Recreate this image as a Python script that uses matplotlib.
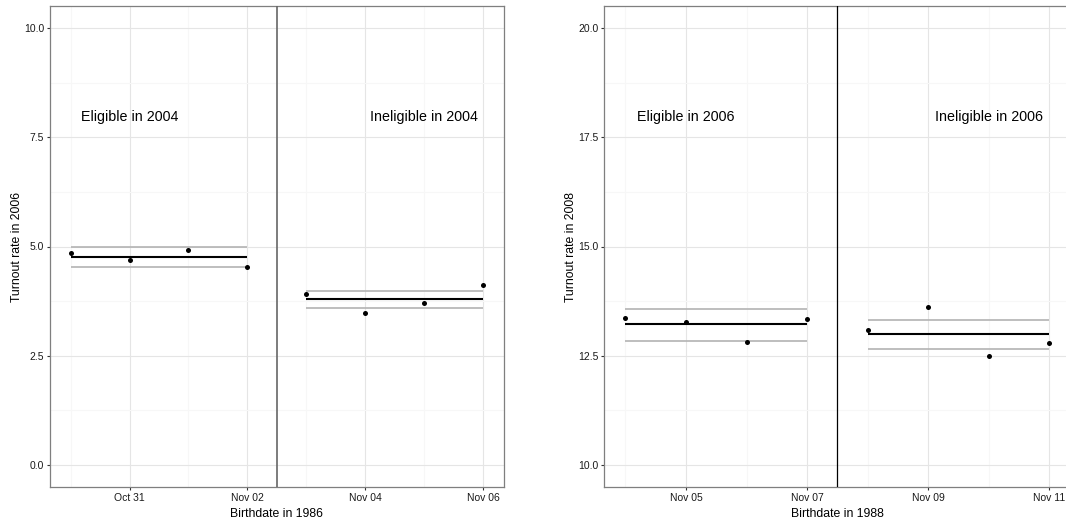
import numpy as np
import matplotlib
matplotlib.use("Agg")
import matplotlib.pyplot as plt
import matplotlib.dates as mdates

plt.rcParams['font.family'] = ['Liberation Sans', 'DejaVu Sans']

# ---- Data: panel 1 (born 1986, turnout 2006) ----
dates_1986 = ['1986-10-30', '1986-10-31', '1986-11-01', '1986-11-02',
              '1986-11-03', '1986-11-04', '1986-11-05', '1986-11-06']
turnout_2006 = [4.84, 4.69, 4.93, 4.53, 3.91, 3.47, 3.70, 4.11]
eligible_1986 = [True, True, True, True, False, False, False, False]
mean_2006 = [4.75, 3.79]
upper_2006 = [5.00, 3.99]
lower_2006 = [4.53, 3.60]
cutoff_1986 = '1986-11-02T12:00'
labels_1986 = ['Eligible in 2004', 'Ineligible in 2004']
label_dates_1986 = ['1986-10-31', '1986-11-05']
label_y_1986 = 7.97
xticks_1986 = ['1986-10-31', '1986-11-02', '1986-11-04', '1986-11-06']
xminor_1986 = ['1986-10-30', '1986-11-01', '1986-11-03', '1986-11-05']

# ---- Data: panel 2 (born 1988, turnout 2008) ----
dates_1988 = ['1988-11-04', '1988-11-05', '1988-11-06', '1988-11-07',
              '1988-11-08', '1988-11-09', '1988-11-10', '1988-11-11']
turnout_2008 = [13.36, 13.27, 12.81, 13.34, 13.08, 13.61, 12.50, 12.79]
eligible_1988 = [True, True, True, True, False, False, False, False]
mean_2008 = [13.22, 12.99]
upper_2008 = [13.58, 13.33]
lower_2008 = [12.85, 12.65]
cutoff_1988 = '1988-11-07T12:00'
labels_1988 = ['Eligible in 2006', 'Ineligible in 2006']
label_dates_1988 = ['1988-11-05', '1988-11-10']
label_y_1988 = 17.97
xticks_1988 = ['1988-11-05', '1988-11-07', '1988-11-09', '1988-11-11']
xminor_1988 = ['1988-11-04', '1988-11-06', '1988-11-08', '1988-11-10']

yticks_1 = [0.0, 2.5, 5.0, 7.5, 10.0]
yticks_2 = [10.0, 12.5, 15.0, 17.5, 20.0]


def dnum(s):
    return mdates.date2num(np.datetime64(s))


def draw(ax, dates, vals, elig, means, ups, lows, cutoff, labels, ldates, ly,
         xt, xm, yt, ylim, xlabel, ylabel, vcolor, vlw):
    x = np.array([dnum(d) for d in dates])
    v = np.array(vals)
    e = np.array(elig)
    ax.set_facecolor('white')
    for grp, i in ((e, 0), (~e, 1)):
        xs = x[grp]
        ax.hlines(ups[i], xs.min(), xs.max(), color='#B3B3B3', lw=1.2, zorder=3)
        ax.hlines(lows[i], xs.min(), xs.max(), color='#B3B3B3', lw=1.2, zorder=3)
        ax.hlines(means[i], xs.min(), xs.max(), color='black', lw=1.5, zorder=4)
    ax.scatter(x, v, s=13, color='black', zorder=5, linewidths=0)
    ax.axvline(dnum(cutoff), color=vcolor, lw=vlw, zorder=4)
    for lab, ld in zip(labels, ldates):
        ax.text(dnum(ld), ly, lab, ha='center', va='center', fontsize=10.3, color='black')
    span = x.max() - x.min()
    ax.set_xlim(x.min() - 0.05 * span, x.max() + 0.05 * span)
    ax.set_ylim(*ylim)
    ax.set_xticks([dnum(d) for d in xt])
    ax.set_xticklabels([np.datetime64(d).astype(object).strftime('%b %d') for d in xt])
    ax.set_xticks([dnum(d) for d in xm], minor=True)
    ax.set_yticks(yt)
    ax.set_yticklabels(['%.1f' % t for t in yt])
    ax.set_yticks([t + 1.25 for t in yt[:-1]], minor=True)
    ax.grid(which='major', color='#E5E5E5', lw=0.8, zorder=0)
    ax.grid(which='minor', color='#F7F7F7', lw=0.8, zorder=0)
    ax.set_axisbelow(True)
    ax.tick_params(which='major', length=2.2, width=0.8, color='#333333',
                   labelsize=7.5, labelcolor='#1a1a1a', pad=2)
    ax.tick_params(which='minor', length=0)
    for sp in ax.spines.values():
        sp.set_color('#7F7F7F')
        sp.set_linewidth(0.9)
    ax.set_xlabel(xlabel, fontsize=8.8, labelpad=4)
    ax.set_ylabel(ylabel, fontsize=8.8, labelpad=1)


fig = plt.figure(figsize=(10.66, 5.25), dpi=100)
ax1 = fig.add_axes([50 / 1066, 1 - 487 / 525, 453.5 / 1066, 481 / 525])
ax2 = fig.add_axes([604.2 / 1066, 1 - 487 / 525, 466.3 / 1066, 481 / 525])

draw(ax1, dates_1986, turnout_2006, eligible_1986, mean_2006, upper_2006, lower_2006,
     cutoff_1986, labels_1986, label_dates_1986, label_y_1986, xticks_1986, xminor_1986,
     yticks_1, (-0.5, 10.5), 'Birthdate in 1986', 'Turnout rate in 2006', '#666666', 1.2)
draw(ax2, dates_1988, turnout_2008, eligible_1988, mean_2008, upper_2008, lower_2008,
     cutoff_1988, labels_1988, label_dates_1988, label_y_1988, xticks_1988, xminor_1988,
     yticks_2, (9.5, 20.5), 'Birthdate in 1988', 'Turnout rate in 2008', 'black', 0.9)

fig.savefig('out.png', dpi=100)
